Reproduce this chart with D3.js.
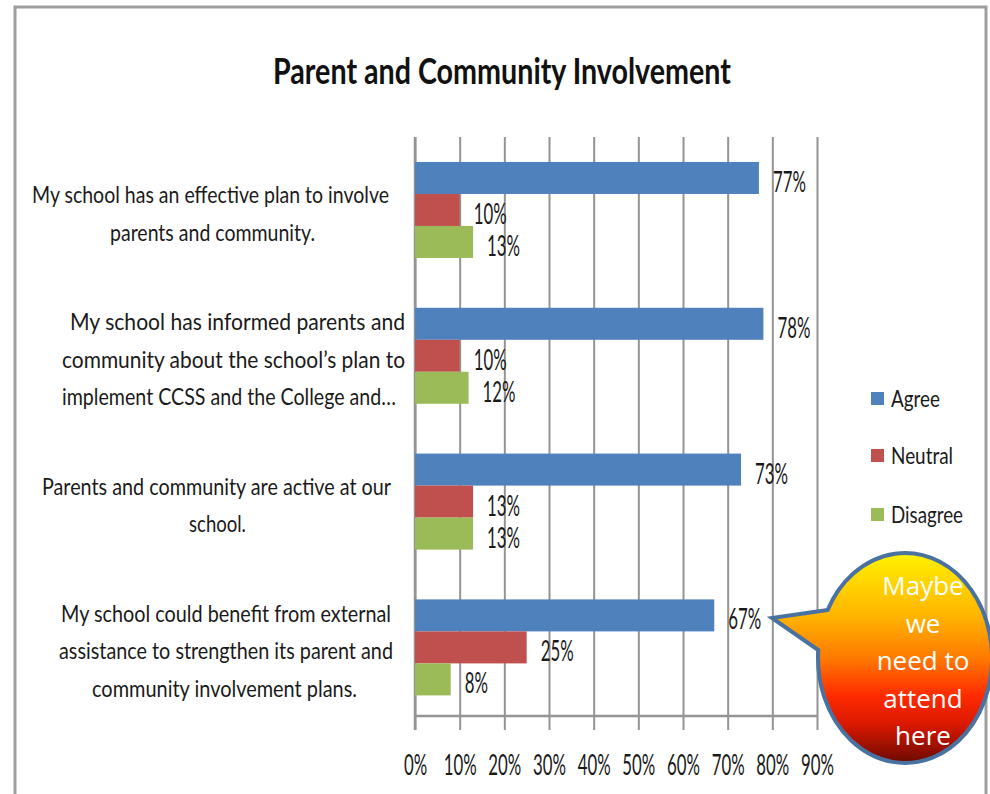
<!DOCTYPE html>
<html><head><meta charset="utf-8">
<script src="https://cdn.jsdelivr.net/npm/d3@7"></script>
<style>body{margin:0;background:#fff} svg{display:block}</style>
</head><body>
<svg id="chart" width="990" height="794"></svg>
<script>
// ---------- DATA ----------
const title = "Parent and Community Involvement";
const categories = [
  ["My school  has an effective plan to involve", "parents and community."],
  ["My school has informed parents and", "community about the school\u2019s plan to", "implement CCSS and the College and\u2026"],
  ["Parents and community are active at our", "school."],
  ["My school could benefit from external", "assistance to strengthen its parent and", "community involvement plans."]
];
const seriesNames = ["Agree", "Neutral", "Disagree"];
const agree    = [77, 78, 73, 67];
const neutral  = [10, 10, 13, 25];
const disagree = [13, 12, 13, 8];
const tickValues = [0, 10, 20, 30, 40, 50, 60, 70, 80, 90];
const calloutLines = ["Maybe", "we", "need to", "attend", "here"];

// ---------- LAYOUT / STYLE ----------
const colors = ["#4f81bd", "#c0504d", "#9bbb59"];
const FONT = "Lato, 'Open Sans', sans-serif";
const plot = {left: 415, right: 817, top: 137, bottom: 716};
// horizontal extents [x0,x1] of each category label line
const labelExtents = [
  [[32, 389], [110, 315]],
  [[70, 405], [62, 405], [62, 396]],
  [[42, 391], [189, 246]],
  [[61, 391], [59, 393], [92, 357]]
];
const legendWidths = [49, 62, 72];

const svg = d3.select("#chart");
const values = [agree, neutral, disagree];

// frame
svg.append("rect").attr("x", 15).attr("y", 7).attr("width", 971).attr("height", 830)
  .attr("fill", "#fff").attr("stroke", "#9e9e9e").attr("stroke-width", 3);

// title
svg.append("text").attr("x", 273).attr("y", 84)
  .attr("font-family", FONT).attr("font-weight", "bold").attr("font-size", 36)
  .attr("fill", "#111").attr("textLength", 458).attr("lengthAdjust", "spacingAndGlyphs")
  .text(title);

// scales
const x = d3.scaleLinear().domain([0, 90]).range([plot.left, plot.right]);
const y = d3.scaleBand().domain(d3.range(categories.length))
  .range([plot.top, plot.bottom]).paddingInner(0.3416).paddingOuter(0.1563).align(0.548);
const ys = d3.scaleBand().domain(seriesNames).range([0, y.bandwidth()]);

// gridlines + tick labels
const gAxis = svg.append("g").attr("transform", "translate(0,730)")
  .call(d3.axisBottom(x).tickValues(tickValues).tickSize(-(730 - plot.top)).tickFormat(d => d + "%"));
gAxis.select(".domain").remove();
gAxis.selectAll(".tick line").attr("stroke", "#949494").attr("stroke-width", 2);
gAxis.selectAll(".tick text")
  .attr("y", 45).attr("dy", null)
  .attr("font-family", FONT).attr("font-size", 28).attr("fill", "#1a1a1a")
  .attr("transform", "scale(0.6,1)");

// axis line
svg.append("line").attr("x1", x(0)).attr("x2", x(90)).attr("y1", plot.bottom).attr("y2", plot.bottom)
  .attr("stroke", "#949494").attr("stroke-width", 2.5);
svg.append("line").attr("x1", x(0)).attr("x2", x(0)).attr("y1", plot.top).attr("y2", 730)
  .attr("stroke", "#949494").attr("stroke-width", 2.5);

// bars
const flat = [];
categories.forEach((c, i) => seriesNames.forEach((s, k) => flat.push({i, s, k, v: values[k][i]})));
svg.append("g").selectAll("rect").data(flat).join("rect")
  .attr("x", x(0))
  .attr("y", d => y(d.i) + ys(d.s))
  .attr("width", d => x(d.v) - x(0))
  .attr("height", ys.bandwidth())
  .attr("fill", d => colors[d.k]);

// data labels
svg.append("g").selectAll("text").data(flat).join("text")
  .attr("transform", d => `translate(${x(d.v) + 14},${y(d.i) + ys(d.s) + ys.bandwidth() / 2 + 14}) scale(0.6,1)`)
  .attr("font-family", FONT).attr("font-size", 28).attr("fill", "#1a1a1a")
  .text(d => d.v + "%");

// category labels
categories.forEach((lines, i) => {
  const cy = y(i) + y.bandwidth() / 2;
  const n = lines.length;
  lines.forEach((line, j) => {
    const [x0, x1] = labelExtents[i][j];
    svg.append("text")
      .attr("x", x0).attr("y", cy + (j - (n - 1) / 2) * 37.5 + 12)
      .attr("font-family", FONT).attr("font-size", 24).attr("fill", "#1a1a1a")
      .attr("textLength", x1 - x0).attr("lengthAdjust", "spacingAndGlyphs")
      .text(line);
  });
});

// legend
const legendY = [407, 464, 523];
seriesNames.forEach((s, k) => {
  svg.append("rect").attr("x", 871).attr("y", legendY[k] - 15).attr("width", 13).attr("height", 13)
    .attr("fill", colors[k]);
  svg.append("text").attr("x", 891).attr("y", legendY[k])
    .attr("font-family", FONT).attr("font-size", 24).attr("fill", "#1a1a1a")
    .attr("textLength", legendWidths[k]).attr("lengthAdjust", "spacingAndGlyphs")
    .text(s);
});

// callout
const defs = svg.append("defs");
const grad = defs.append("linearGradient").attr("id", "cg")
  .attr("gradientUnits", "userSpaceOnUse").attr("x1", 0).attr("x2", 0).attr("y1", 553).attr("y2", 763);
[[0, "#fff200"], [0.3, "#ffb400"], [0.5, "#ff7a00"], [0.68, "#ff2a00"], [0.82, "#d81800"], [1, "#6b0a00"]]
  .forEach(([o, c]) => grad.append("stop").attr("offset", o).attr("stop-color", c));
const ec = {cx: 905, cy: 658, rx: 87, ry: 105};
const tip = [772, 618];
function onEllipse(yy) {
  const s = (yy - ec.cy) / ec.ry;
  return [ec.cx - ec.rx * Math.sqrt(1 - s * s), yy];
}
const up = onEllipse(610), lo = onEllipse(650);
svg.append("path")
  .attr("d", `M${up[0]},${up[1]} L${tip[0]},${tip[1]} L${lo[0]},${lo[1]} A${ec.rx},${ec.ry} 0 1 0 ${up[0]},${up[1]} Z`)
  .attr("fill", "url(#cg)").attr("stroke", "#4a72a0").attr("stroke-width", 4).attr("stroke-linejoin", "miter");
calloutLines.forEach((t, j) => {
  svg.append("text").attr("x", 923).attr("y", 595 + j * 37.5)
    .attr("text-anchor", "middle").attr("font-family", "'Open Sans', sans-serif").attr("font-size", 26)
    .attr("fill", "#fff").text(t);
});
</script>
</body></html>
